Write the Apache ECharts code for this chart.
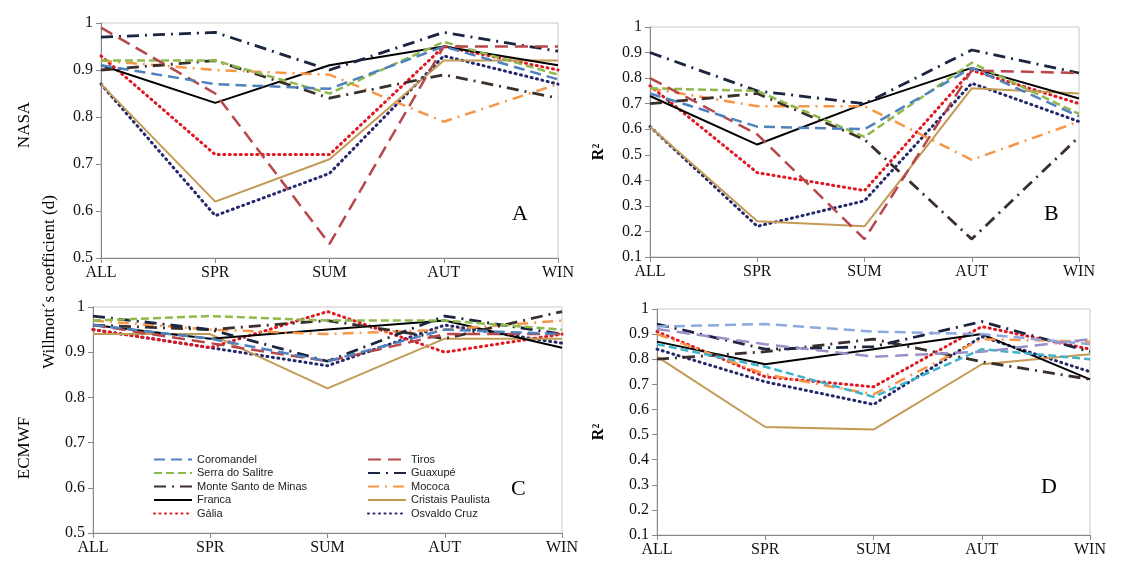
<!DOCTYPE html>
<html>
<head>
<meta charset="utf-8">
<script src="https://cdn.jsdelivr.net/npm/echarts@6/dist/echarts.min.js"></script>
<style>
  html, body { margin: 0; padding: 0; background: #fff; }
  #chart { width: 1126px; height: 564px; }
</style>
</head>
<body>
<div id="chart"></div>
<script>
var categories = ['ALL', 'SPR', 'SUM', 'AUT', 'WIN'];

var stations = ['Coromandel', 'Tiros', 'Serra do Salitre', 'Guaxupé', 'Monte Santo de Minas',
  'Mococa', 'Franca', 'Cristais Paulista', 'Gália', 'Osvaldo Cruz'];

// A: NASA, Willmott d
var nasaD = [
  [0.91, 0.87, 0.86, 0.95, 0.88],
  [0.99, 0.85, 0.53, 0.95, 0.95],
  [0.92, 0.92, 0.85, 0.96, 0.89],
  [0.97, 0.98, 0.90, 0.98, 0.94],
  [0.90, 0.92, 0.84, 0.89, 0.84],
  [0.92, 0.90, 0.89, 0.79, 0.87],
  [0.91, 0.83, 0.91, 0.95, 0.91],
  [0.87, 0.62, 0.71, 0.92, 0.92],
  [0.93, 0.72, 0.72, 0.95, 0.90],
  [0.87, 0.59, 0.68, 0.93, 0.87]
];

// B: NASA, R2
var nasaR2 = [
  [0.74, 0.61, 0.60, 0.84, 0.65],
  [0.80, 0.58, 0.17, 0.83, 0.82],
  [0.76, 0.75, 0.57, 0.86, 0.66],
  [0.90, 0.75, 0.70, 0.91, 0.82],
  [0.70, 0.74, 0.56, 0.17, 0.57],
  [0.76, 0.69, 0.69, 0.48, 0.63],
  [0.73, 0.54, 0.70, 0.84, 0.72],
  [0.61, 0.24, 0.22, 0.76, 0.74],
  [0.77, 0.43, 0.36, 0.83, 0.70],
  [0.61, 0.22, 0.32, 0.78, 0.63]
];

// C: ECMWF, Willmott d
var ecmwfD = [
  [0.96, 0.93, 0.88, 0.95, 0.94],
  [0.96, 0.92, 0.88, 0.94, 0.94],
  [0.97, 0.98, 0.97, 0.97, 0.95],
  [0.98, 0.95, 0.88, 0.98, 0.94],
  [0.96, 0.95, 0.97, 0.93, 0.99],
  [0.97, 0.95, 0.94, 0.95, 0.97],
  [0.96, 0.93, 0.95, 0.97, 0.91],
  [0.94, 0.94, 0.82, 0.93, 0.93],
  [0.95, 0.91, 0.99, 0.90, 0.94],
  [0.95, 0.91, 0.87, 0.96, 0.92]
];

// D: ECMWF, R2
var ecmwfR2 = [
  [0.93, 0.94, 0.91, 0.90, 0.86],
  [0.92, 0.86, 0.81, 0.83, 0.88],
  [0.86, 0.77, 0.65, 0.84, 0.80],
  [0.94, 0.84, 0.85, 0.95, 0.83],
  [0.80, 0.83, 0.88, 0.79, 0.72],
  [0.90, 0.74, 0.66, 0.88, 0.87],
  [0.87, 0.78, 0.84, 0.90, 0.72],
  [0.81, 0.53, 0.52, 0.78, 0.82],
  [0.91, 0.73, 0.69, 0.93, 0.84],
  [0.84, 0.71, 0.62, 0.89, 0.75]
];

var colors = ['#4f81bd', '#b8474a', '#8fb94b', '#1b2540', '#3a2f2a',
  '#f79646', '#000000', '#c39a55', '#e3151f', '#24286a'];
var colorsD = ['#8ea9db', '#9c8fc8', '#3fb3cc', '#1b2540', '#3a2f2a',
  '#f79646', '#000000', '#c39a55', '#e3151f', '#24286a'];

var dashes = [[11, 6], [13, 7], [8, 4], [12, 6, 2, 6], [12, 6, 2, 6],
  [11, 6, 2, 6], 'solid', 'solid', [1, 4.5], [1, 4.5]];
var widths = [2.5, 2.5, 2.5, 2.8, 2.8, 2.5, 2, 2, 3, 3];

var chart = echarts.init(document.getElementById('chart'));

var serif = 'Liberation Serif';
var grids = [
  { left: 101, top: 23, width: 457, height: 235 },
  { left: 650, top: 27, width: 429, height: 230 },
  { left: 93, top: 307, width: 469, height: 226 },
  { left: 657, top: 309, width: 433, height: 226 }
];
var yMins = [0.5, 0.1, 0.5, 0.1];
var panels = [nasaD, nasaR2, ecmwfD, ecmwfR2];

function extend(a, b) {
  for (var k in b) a[k] = b[k];
  return a;
}

var xAxes = [], yAxes = [], series = [];

grids.forEach(function (g, i) {
  xAxes.push({
    type: 'category',
    gridIndex: i,
    data: categories,
    boundaryGap: false,
    axisLine: { lineStyle: { color: '#888', width: 1 } },
    axisTick: { show: true, length: 5, lineStyle: { color: '#888' } },
    axisLabel: { color: '#111', fontFamily: serif, fontSize: 16, margin: 7 },
    splitLine: { show: false }
  });
  yAxes.push({
    type: 'value',
    gridIndex: i,
    min: yMins[i],
    max: 1,
    interval: 0.1,
    axisLine: { show: true, lineStyle: { color: '#888', width: 1 } },
    axisTick: { show: true, length: 5, lineStyle: { color: '#888' } },
    axisLabel: { color: '#111', fontFamily: serif, fontSize: 16, margin: 8 },
    splitLine: { show: false }
  });
  panels[i].forEach(function (vals, s) {
    var c = i === 3 ? colorsD[s] : colors[s];
    series.push({
      name: stations[s],
      type: 'line',
      xAxisIndex: i,
      yAxisIndex: i,
      data: vals,
      symbol: 'none',
      silent: true,
      color: c,
      lineStyle: { color: c, width: widths[s], type: dashes[s], cap: s >= 8 ? 'round' : 'butt' },
      z: 10 - s
    });
  });
});

// 图例：只画线，不画圆点
var legendCommon = {
  orient: 'vertical',
  itemWidth: 38,
  itemHeight: 12,
  itemGap: 2.5,
  itemStyle: { color: 'transparent', borderWidth: 0, opacity: 0 },
  textStyle: { fontFamily: 'Liberation Sans', fontSize: 11, color: '#222' },
  selectedMode: false
};

var option = {
  animation: false,
  grid: grids.map(function (g) {
    return extend({ show: true, borderColor: '#c8c8c8', borderWidth: 1 }, g);
  }),
  xAxis: xAxes,
  yAxis: yAxes,
  legend: [
    extend(extend({}, legendCommon), {
      left: 148, top: 449,
      data: ['Coromandel', 'Serra do Salitre', 'Monte Santo de Minas', 'Franca', 'Gália']
    }),
    extend(extend({}, legendCommon), {
      left: 362, top: 449,
      data: ['Tiros', 'Guaxupé', 'Mococa', 'Cristais Paulista', 'Osvaldo Cruz']
    })
  ],
  graphic: [
    { type: 'text', left: 512, top: 203, style: { text: 'A', font: '22px ' + serif, fill: '#000' } },
    { type: 'text', left: 1044, top: 203, style: { text: 'B', font: '22px ' + serif, fill: '#000' } },
    { type: 'text', left: 511, top: 478, style: { text: 'C', font: '22px ' + serif, fill: '#000' } },
    { type: 'text', left: 1041, top: 476, style: { text: 'D', font: '22px ' + serif, fill: '#000' } },
    { type: 'text', x: 25, y: 125, rotation: Math.PI / 2, style: { text: 'NASA', font: '17px ' + serif, fill: '#000', align: 'center', verticalAlign: 'middle' } },
    { type: 'text', x: 50, y: 282, rotation: Math.PI / 2, style: { text: 'Willmott´s coefficient (d)', font: '17px ' + serif, fill: '#000', align: 'center', verticalAlign: 'middle' } },
    { type: 'text', x: 25, y: 448, rotation: Math.PI / 2, style: { text: 'ECMWF', font: '17px ' + serif, fill: '#000', align: 'center', verticalAlign: 'middle' } },
    { type: 'text', x: 599, y: 152, rotation: Math.PI / 2, style: { text: 'R²', font: 'bold 16px ' + serif, fill: '#000', align: 'center', verticalAlign: 'middle' } },
    { type: 'text', x: 599, y: 432, rotation: Math.PI / 2, style: { text: 'R²', font: 'bold 16px ' + serif, fill: '#000', align: 'center', verticalAlign: 'middle' } }
  ],
  series: series
};

chart.setOption(option);
</script>
</body>
</html>
